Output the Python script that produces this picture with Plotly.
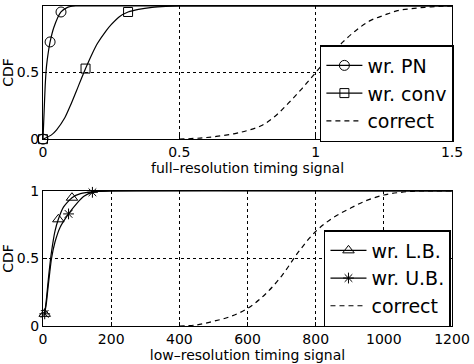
import plotly.graph_objects as go

# ---- top panel data (full-resolution timing signal) ----
pn_x = [0, 0.004, 0.008, 0.013, 0.02, 0.026, 0.04, 0.066, 0.09, 0.12, 0.2, 1.5]
pn_y = [0, 0.2, 0.4, 0.55, 0.66, 0.73, 0.84, 0.955, 0.99, 1.0, 1.0, 1.0]
pn_mx = [0, 0.026, 0.066]
pn_my = [0, 0.73, 0.955]

conv_x = [0, 0.03, 0.05, 0.08, 0.1, 0.13, 0.156, 0.18, 0.2, 0.23, 0.25, 0.28, 0.312, 0.35, 0.4, 0.45, 0.5, 1.5]
conv_y = [0, 0.03, 0.07, 0.16, 0.25, 0.4, 0.53, 0.64, 0.72, 0.81, 0.86, 0.92, 0.955, 0.975, 0.99, 0.997, 1.0, 1.0]
conv_mx = [0, 0.156, 0.312]
conv_my = [0, 0.53, 0.955]

cor1_x = [0.5, 0.6, 0.7, 0.75, 0.8, 0.85, 0.9, 0.95, 1.0, 1.05, 1.1, 1.15, 1.2, 1.25, 1.3, 1.35, 1.4, 1.45, 1.5]
cor1_y = [0.0, 0.012, 0.04, 0.065, 0.1, 0.17, 0.27, 0.38, 0.5, 0.62, 0.73, 0.82, 0.89, 0.93, 0.965, 0.98, 0.99, 0.997, 1.0]

# ---- bottom panel data (low-resolution timing signal) ----
lb_x = [5, 10, 15, 20, 25, 35, 45, 60, 85, 110, 150, 200, 1200]
lb_y = [0.09, 0.2, 0.33, 0.45, 0.55, 0.7, 0.79, 0.88, 0.95, 0.98, 0.995, 1.0, 1.0]
lb_mx = [5, 45, 85]
lb_my = [0.09, 0.79, 0.95]

ub_x = [5, 10, 15, 20, 25, 35, 50, 75, 100, 120, 145, 200, 1200]
ub_y = [0.09, 0.17, 0.29, 0.4, 0.5, 0.62, 0.73, 0.83, 0.91, 0.96, 0.99, 1.0, 1.0]
ub_mx = [5, 75, 145]
ub_my = [0.09, 0.83, 0.99]

cor2_x = [400, 450, 500, 550, 600, 650, 700, 750, 800, 850, 900, 950, 1000, 1050, 1100, 1150, 1200]
cor2_y = [0.0, 0.008, 0.035, 0.07, 0.13, 0.23, 0.37, 0.55, 0.7, 0.8, 0.87, 0.93, 0.97, 0.99, 1.0, 1.0, 1.0]

top_xticks = [0, 0.5, 1, 1.5]
top_xlabels = ["0", "0.5", "1", "1.5"]
bot_xticks = [0, 200, 400, 600, 800, 1000, 1200]
bot_xlabels = ["0", "200", "400", "600", "800", "1000", "1200"]
yticks = [0, 0.5, 1]
ylabels = ["0", "0.5", "1"]

FONT = "DejaVu Sans, Arial, sans-serif"
LW = 1.2

fig = go.Figure()

def add_series(x, y, mx, my, name, symbol, xa, ya, legend, msize=9):
    fig.add_trace(go.Scatter(x=x, y=y, mode="lines", line=dict(color="black", width=LW, shape="spline", smoothing=0.6),
                             xaxis=xa, yaxis=ya, showlegend=False, hoverinfo="skip"))
    fig.add_trace(go.Scatter(x=mx, y=my, mode="markers", cliponaxis=False,
                             marker=dict(symbol=symbol, size=msize, color="black", line=dict(color="black", width=1)),
                             xaxis=xa, yaxis=ya, showlegend=False))
    fig.add_trace(go.Scatter(x=[None], y=[None], mode="lines+markers", name=name,
                             line=dict(color="black", width=LW),
                             marker=dict(symbol=symbol, size=msize, color="black", line=dict(color="black", width=1)),
                             xaxis=xa, yaxis=ya, legend=legend))

add_series(pn_x, pn_y, pn_mx, pn_my, "wr. PN", "circle-open", "x", "y", "legend", 10)
add_series(conv_x, conv_y, conv_mx, conv_my, "wr. conv", "square-open", "x", "y", "legend", 9)
fig.add_trace(go.Scatter(x=cor1_x, y=cor1_y, mode="lines", name="correct",
                         line=dict(color="black", width=LW, dash="5px,4px", shape="spline"),
                         xaxis="x", yaxis="y", legend="legend"))

add_series(lb_x, lb_y, lb_mx, lb_my, "wr. L.B.", "triangle-up-open", "x2", "y2", "legend2", 10)
add_series(ub_x, ub_y, ub_mx, ub_my, "wr. U.B.", "asterisk-open", "x2", "y2", "legend2", 9)
fig.add_trace(go.Scatter(x=cor2_x, y=cor2_y, mode="lines", name="correct",
                         line=dict(color="black", width=LW, dash="5px,4px", shape="spline"),
                         xaxis="x2", yaxis="y2", legend="legend2"))

axis_common = dict(showline=True, mirror=True, linecolor="black", linewidth=1.3,
                   ticks="inside", ticklen=4, tickcolor="black", automargin=False,
                   showgrid=True, gridcolor="black", griddash="dot", gridwidth=1,
                   zeroline=False, tickfont=dict(size=14, color="black", family=FONT))

legend_common = dict(bgcolor="white", bordercolor="black", borderwidth=1.5,
                     font=dict(size=19, color="black", family=FONT),
                     xanchor="left", yanchor="top", tracegroupgap=0, itemwidth=36)

fig.update_layout(
    width=474, height=364,
    margin=dict(l=43, r=22, t=6, b=38, autoexpand=False),
    paper_bgcolor="white", plot_bgcolor="white",
    font=dict(family=FONT, color="black"),
    xaxis=dict(domain=[0, 1], range=[0, 1.5], tickvals=top_xticks, ticktext=top_xlabels, anchor="y",
               title=dict(text="full\u2013resolution timing signal", font=dict(size=14), standoff=0), **axis_common),
    yaxis=dict(domain=[0.584, 1.0], range=[0, 1], tickvals=yticks, ticktext=ylabels, anchor="x",
               title=dict(text="CDF", font=dict(size=14), standoff=0), **axis_common),
    xaxis2=dict(domain=[0, 1], range=[0, 1200], tickvals=bot_xticks, ticktext=bot_xlabels, anchor="y2",
                title=dict(text="low\u2013resolution timing signal", font=dict(size=14), standoff=0), **axis_common),
    yaxis2=dict(domain=[0, 0.422], range=[0, 1], tickvals=yticks, ticktext=ylabels, anchor="x2",
                title=dict(text="CDF", font=dict(size=14), standoff=0), **axis_common),
    legend=dict(x=0.677, y=0.878, **legend_common),
    legend2=dict(x=0.687, y=0.30, **legend_common),
)

fig.write_html("out.html", config={"displayModeBar": False},
               post_script="document.body.style.margin='0';document.body.style.overflow='hidden';")
